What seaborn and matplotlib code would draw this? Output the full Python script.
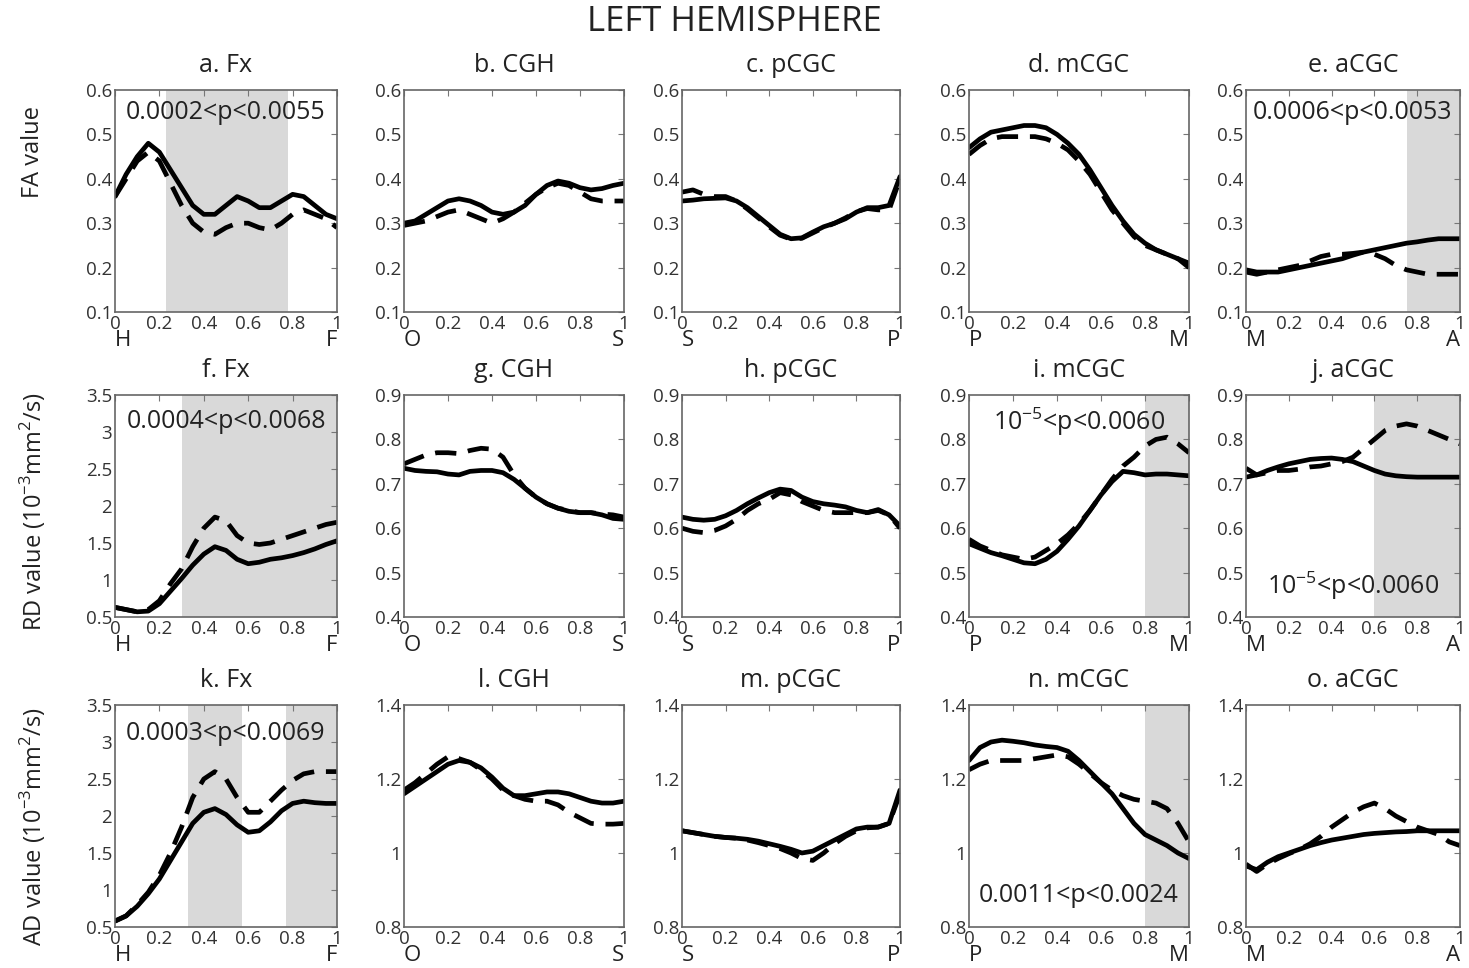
import numpy as np
import pandas as pd
import matplotlib
matplotlib.use("Agg")
import matplotlib.pyplot as plt
import seaborn as sns

# position along the tract (normalised)
pos = [0, 0.05, 0.1, 0.15, 0.2, 0.25, 0.3, 0.35, 0.4, 0.45, 0.5,
       0.55, 0.6, 0.65, 0.7, 0.75, 0.8, 0.85, 0.9, 0.95, 1]

# FA rows (solid = first group, dashed = second group)
fa_fx_solid = [0.36, 0.41, 0.45, 0.48, 0.46, 0.42, 0.38, 0.34, 0.32, 0.32, 0.34,
               0.36, 0.35, 0.335, 0.335, 0.35, 0.365, 0.36, 0.34, 0.32, 0.31]
fa_fx_dash = [0.36, 0.40, 0.44, 0.46, 0.44, 0.39, 0.34, 0.30, 0.28, 0.275, 0.29,
              0.30, 0.30, 0.29, 0.285, 0.30, 0.32, 0.33, 0.32, 0.31, 0.29]
fa_cgh_solid = [0.30, 0.305, 0.32, 0.335, 0.35, 0.355, 0.35, 0.34, 0.325, 0.32, 0.325,
                0.34, 0.365, 0.385, 0.395, 0.39, 0.38, 0.375, 0.378, 0.385, 0.39]
fa_cgh_dash = [0.295, 0.30, 0.305, 0.315, 0.325, 0.33, 0.32, 0.31, 0.30, 0.31, 0.325,
               0.345, 0.365, 0.38, 0.39, 0.385, 0.37, 0.355, 0.35, 0.35, 0.35]
fa_pcgc_solid = [0.35, 0.352, 0.355, 0.356, 0.357, 0.35, 0.335, 0.315, 0.295, 0.275, 0.265,
                 0.267, 0.28, 0.292, 0.30, 0.31, 0.325, 0.335, 0.335, 0.34, 0.405]
fa_pcgc_dash = [0.37, 0.375, 0.365, 0.36, 0.36, 0.35, 0.332, 0.312, 0.292, 0.273, 0.264,
                0.266, 0.278, 0.29, 0.30, 0.312, 0.326, 0.333, 0.33, 0.33, 0.40]
fa_mcgc_solid = [0.47, 0.49, 0.505, 0.51, 0.515, 0.52, 0.52, 0.515, 0.50, 0.48, 0.455,
                 0.42, 0.38, 0.34, 0.305, 0.275, 0.255, 0.24, 0.23, 0.22, 0.21]
fa_mcgc_dash = [0.455, 0.475, 0.49, 0.495, 0.495, 0.495, 0.495, 0.49, 0.48, 0.465, 0.44,
                0.41, 0.37, 0.33, 0.30, 0.27, 0.25, 0.24, 0.23, 0.22, 0.20]
fa_acgc_solid = [0.195, 0.19, 0.19, 0.19, 0.195, 0.20, 0.205, 0.21, 0.215, 0.22, 0.228,
                 0.235, 0.24, 0.245, 0.25, 0.255, 0.258, 0.262, 0.265, 0.265, 0.265]
fa_acgc_dash = [0.19, 0.185, 0.19, 0.195, 0.20, 0.205, 0.215, 0.225, 0.23, 0.23, 0.232,
                0.235, 0.23, 0.22, 0.205, 0.195, 0.19, 0.185, 0.185, 0.185, 0.185]

# RD rows
rd_fx_solid = [0.63, 0.60, 0.57, 0.58, 0.68, 0.85, 1.02, 1.20, 1.35, 1.45, 1.40,
               1.28, 1.22, 1.24, 1.28, 1.30, 1.33, 1.37, 1.42, 1.48, 1.53]
rd_fx_dash = [0.63, 0.60, 0.57, 0.60, 0.72, 0.95, 1.15, 1.45, 1.70, 1.85, 1.80,
              1.60, 1.50, 1.48, 1.50, 1.55, 1.60, 1.65, 1.70, 1.75, 1.78]
rd_cgh_solid = [0.735, 0.73, 0.728, 0.727, 0.722, 0.72, 0.728, 0.73, 0.73, 0.725, 0.71,
                0.69, 0.67, 0.655, 0.645, 0.638, 0.635, 0.635, 0.63, 0.622, 0.62]
rd_cgh_dash = [0.745, 0.755, 0.765, 0.77, 0.77, 0.768, 0.775, 0.78, 0.778, 0.76, 0.72,
               0.69, 0.67, 0.655, 0.645, 0.64, 0.635, 0.635, 0.632, 0.63, 0.625]
rd_pcgc_solid = [0.625, 0.62, 0.618, 0.62, 0.628, 0.64, 0.655, 0.668, 0.68, 0.688, 0.685,
                 0.67, 0.66, 0.655, 0.652, 0.648, 0.64, 0.635, 0.642, 0.63, 0.605]
rd_pcgc_dash = [0.60, 0.593, 0.59, 0.595, 0.605, 0.62, 0.64, 0.655, 0.665, 0.68, 0.675,
                0.66, 0.65, 0.64, 0.635, 0.635, 0.635, 0.635, 0.64, 0.63, 0.60]
rd_mcgc_solid = [0.565, 0.555, 0.545, 0.538, 0.53, 0.522, 0.52, 0.53, 0.548, 0.575, 0.605,
                 0.64, 0.675, 0.705, 0.728, 0.725, 0.72, 0.722, 0.722, 0.72, 0.718]
rd_mcgc_dash = [0.575, 0.56, 0.55, 0.54, 0.535, 0.53, 0.535, 0.55, 0.565, 0.585, 0.61,
                0.64, 0.675, 0.71, 0.74, 0.76, 0.785, 0.80, 0.805, 0.79, 0.77]
rd_acgc_solid = [0.715, 0.72, 0.73, 0.738, 0.745, 0.75, 0.755, 0.757, 0.758, 0.755, 0.75,
                 0.74, 0.73, 0.722, 0.718, 0.716, 0.715, 0.715, 0.715, 0.715, 0.715]
rd_acgc_dash = [0.735, 0.72, 0.725, 0.73, 0.73, 0.733, 0.738, 0.74, 0.745, 0.75, 0.76,
                0.78, 0.80, 0.82, 0.83, 0.835, 0.83, 0.82, 0.81, 0.80, 0.79]

# AD rows
ad_fx_solid = [0.58, 0.65, 0.78, 0.95, 1.15, 1.40, 1.65, 1.90, 2.05, 2.10, 2.02,
               1.88, 1.78, 1.80, 1.92, 2.07, 2.17, 2.20, 2.18, 2.17, 2.17]
ad_fx_dash = [0.58, 0.65, 0.80, 0.97, 1.20, 1.50, 1.85, 2.25, 2.50, 2.60, 2.50,
              2.25, 2.05, 2.05, 2.20, 2.35, 2.48, 2.57, 2.60, 2.60, 2.60]
ad_cgh_solid = [1.16, 1.18, 1.20, 1.22, 1.24, 1.25, 1.245, 1.23, 1.205, 1.175, 1.155,
                1.155, 1.16, 1.165, 1.165, 1.16, 1.15, 1.14, 1.135, 1.135, 1.14]
ad_cgh_dash = [1.17, 1.19, 1.215, 1.24, 1.26, 1.255, 1.245, 1.225, 1.20, 1.17, 1.155,
               1.145, 1.14, 1.14, 1.13, 1.11, 1.095, 1.08, 1.078, 1.078, 1.08]
ad_pcgc_solid = [1.06, 1.055, 1.05, 1.045, 1.042, 1.04, 1.037, 1.032, 1.025, 1.018, 1.01,
                 1.00, 1.005, 1.02, 1.035, 1.05, 1.065, 1.07, 1.07, 1.08, 1.17]
ad_pcgc_dash = [1.06, 1.055, 1.05, 1.045, 1.042, 1.04, 1.035, 1.028, 1.02, 1.012, 1.00,
                0.985, 0.98, 1.00, 1.025, 1.045, 1.06, 1.068, 1.07, 1.08, 1.16]
ad_mcgc_solid = [1.25, 1.285, 1.30, 1.305, 1.302, 1.298, 1.292, 1.288, 1.285, 1.275, 1.25,
                 1.22, 1.19, 1.16, 1.12, 1.08, 1.05, 1.035, 1.02, 1.00, 0.985]
ad_mcgc_dash = [1.225, 1.24, 1.25, 1.25, 1.25, 1.25, 1.255, 1.26, 1.265, 1.26, 1.24,
                1.215, 1.19, 1.17, 1.155, 1.145, 1.14, 1.135, 1.12, 1.08, 1.03]
ad_acgc_solid = [0.965, 0.955, 0.975, 0.99, 1.00, 1.01, 1.02, 1.028, 1.035, 1.04, 1.045,
                 1.05, 1.053, 1.055, 1.057, 1.058, 1.06, 1.06, 1.06, 1.06, 1.06]
ad_acgc_dash = [0.97, 0.95, 0.97, 0.985, 0.998, 1.01, 1.025, 1.045, 1.07, 1.09, 1.11,
                1.125, 1.135, 1.12, 1.10, 1.085, 1.07, 1.06, 1.05, 1.03, 1.02]

titles = ["a. Fx", "b. CGH", "c. pCGC", "d. mCGC", "e. aCGC",
          "f. Fx", "g. CGH", "h. pCGC", "i. mCGC", "j. aCGC",
          "k. Fx", "l. CGH", "m. pCGC", "n. mCGC", "o. aCGC"]
end_labels = [("H", "F"), ("O", "S"), ("S", "P"), ("P", "M"), ("M", "A")]
row_labels = ["FA value", "RD value (10$^{-3}$mm$^2$/s)", "AD value (10$^{-3}$mm$^2$/s)"]

# significant segments (shaded) and p-value ranges
shade_a = [(0.23, 0.78)]
shade_e = [(0.75, 1.0)]
shade_f = [(0.30, 1.0)]
shade_i = [(0.80, 1.0)]
shade_j = [(0.60, 1.0)]
shade_k = [(0.33, 0.57), (0.77, 1.0)]
shade_n = [(0.80, 1.0)]
p_a = "0.0002<p<0.0055"
p_e = "0.0006<p<0.0053"
p_f = "0.0004<p<0.0068"
p_i = "10$^{-5}$<p<0.0060"
p_j = "10$^{-5}$<p<0.0060"
p_k = "0.0003<p<0.0069"
p_n = "0.0011<p<0.0024"

sns.set_style("white")
plt.rcParams['font.family'] = ['Open Sans', 'DejaVu Sans']
plt.rcParams['mathtext.fontset'] = 'custom'
plt.rcParams['mathtext.rm'] = 'Open Sans'

solids = [fa_fx_solid, fa_cgh_solid, fa_pcgc_solid, fa_mcgc_solid, fa_acgc_solid,
          rd_fx_solid, rd_cgh_solid, rd_pcgc_solid, rd_mcgc_solid, rd_acgc_solid,
          ad_fx_solid, ad_cgh_solid, ad_pcgc_solid, ad_mcgc_solid, ad_acgc_solid]
dashes = [fa_fx_dash, fa_cgh_dash, fa_pcgc_dash, fa_mcgc_dash, fa_acgc_dash,
          rd_fx_dash, rd_cgh_dash, rd_pcgc_dash, rd_mcgc_dash, rd_acgc_dash,
          ad_fx_dash, ad_cgh_dash, ad_pcgc_dash, ad_mcgc_dash, ad_acgc_dash]
shades = {0: shade_a, 4: shade_e, 5: shade_f, 8: shade_i, 9: shade_j, 10: shade_k, 13: shade_n}
ptexts = {0: (p_a, 0.90), 4: (p_e, 0.90), 5: (p_f, 0.88), 8: (p_i, 0.88),
          9: (p_j, 0.14), 10: (p_k, 0.87), 13: (p_n, 0.14)}

# y ranges / ticks per panel
ylims = [(0.1, 0.6)] * 5 + [(0.5, 3.5)] + [(0.4, 0.9)] * 4 + [(0.5, 3.5)] + [(0.8, 1.4)] * 4
yticks = ([np.arange(0.1, 0.61, 0.1)] * 5 + [np.arange(0.5, 3.51, 0.5)] +
          [np.arange(0.4, 0.91, 0.1)] * 4 + [np.arange(0.5, 3.51, 0.5)] +
          [np.arange(0.8, 1.41, 0.2)] * 4)

W, H = 1469, 968
fig = plt.figure(figsize=(W / 100, H / 100), dpi=100)
lefts = [115, 404, 682, 969, 1246]
widths = [222, 220, 218, 220, 214]
tops = [90, 395, 705]
ah = 222

for i in range(15):
    r, c = divmod(i, 5)
    ax = fig.add_axes([lefts[c] / W, 1 - (tops[r] + ah) / H, widths[c] / W, ah / H])
    for a0, a1 in shades.get(i, []):
        ax.axvspan(a0, a1, color='#d9d9d9', lw=0, zorder=0)
    df = pd.DataFrame({'pos': pos, 'solid': solids[i], 'dash': dashes[i]})
    sns.lineplot(data=df, x='pos', y='dash', ax=ax, color='black', lw=3.4,
                 linestyle=(0, (4.5, 2.5)))
    sns.lineplot(data=df, x='pos', y='solid', ax=ax, color='black', lw=3.4)
    ax.set_xlim(0, 1)
    ax.set_ylim(*ylims[i])
    ax.set_xticks([0, 0.2, 0.4, 0.6, 0.8, 1])
    ax.set_xticklabels(['0', '0.2', '0.4', '0.6', '0.8', '1'])
    ax.set_yticks(yticks[i])
    ax.set_yticklabels(['%g' % round(v, 1) for v in yticks[i]])
    ax.tick_params(direction='in', length=4, width=0.8, color='#777777',
                   labelsize=13.5, labelcolor='#333333', pad=2,
                   top=True, right=True)
    for sp in ax.spines.values():
        sp.set_color('#666666')
        sp.set_linewidth(1.2)
    ax.set_xlabel('')
    ax.set_ylabel('')
    ax.set_title(titles[i], fontsize=18, pad=13, color='#222222')
    lo, hi = end_labels[c]
    ax.text(0.0, -0.13, lo, transform=ax.transAxes, ha='left', va='center', fontsize=16, color='#222222')
    ax.text(1.0, -0.13, hi, transform=ax.transAxes, ha='right', va='center', fontsize=16, color='#222222')
    if i in ptexts:
        txt, yy = ptexts[i]
        ax.text(0.5, yy, txt, transform=ax.transAxes, ha='center', va='center',
                fontsize=18, color='#222222')

label_y = [152, 512, 826]
for r in range(3):
    fig.text(33 / W, 1 - label_y[r] / H, row_labels[r], rotation=90, ha='center', va='center',
             fontsize=17, color='#222222')

fig.text(0.5, 1 - 22 / H, "LEFT HEMISPHERE", ha='center', va='center', fontsize=25, color='#222222')

fig.savefig("out.png", dpi=100)
